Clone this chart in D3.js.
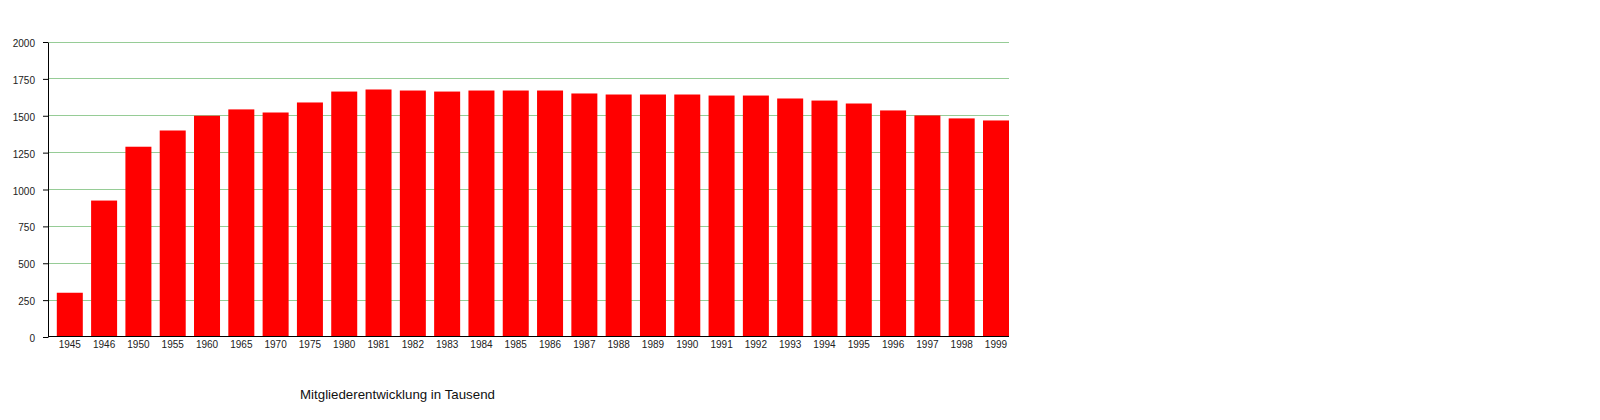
<!DOCTYPE html>
<html>
<head>
<meta charset="utf-8">
<script src="https://cdn.jsdelivr.net/npm/d3@7"></script>
<style>
  html, body { margin: 0; padding: 0; background: #fff; }
  svg { display: block; font-family: "Liberation Sans", Arial, Helvetica, sans-serif; }
</style>
</head>
<body>
<svg id="chart" width="1600" height="420"></svg>
<script>
const categories = ["1945","1946","1950","1955","1960","1965","1970","1975","1980","1981","1982","1983","1984","1985","1986","1987","1988","1989","1990","1991","1992","1993","1994","1995","1996","1997","1998","1999"];
const members = [300, 925, 1290, 1400, 1500, 1543, 1522, 1590, 1664, 1678, 1671, 1664, 1671, 1671, 1671, 1651, 1644, 1644, 1644, 1637, 1637, 1617, 1603, 1583, 1536, 1502, 1482, 1468];
const yTicks = [0, 250, 500, 750, 1000, 1250, 1500, 1750, 2000];
const title = "Mitgliederentwicklung in Tausend";

const svg = d3.select("#chart");
const plotLeft = 48.5, plotRight = 1009, plotTop = 42, plotBottom = 337;

const pi = 0.242;
const x = d3.scaleBand().domain(categories).range([plotLeft, plotRight])
  .paddingInner(pi).paddingOuter(pi / 2).align(1);
const y = d3.scaleLinear().domain([0, 2000]).range([plotBottom, plotTop]);

// gridlines
svg.append("g").selectAll("line").data(yTicks.filter(d => d > 0)).join("line")
  .attr("x1", plotLeft).attr("x2", plotRight)
  .attr("y1", d => Math.floor(y(d)) + 0.5).attr("y2", d => Math.floor(y(d)) + 0.5)
  .attr("stroke", "#96cc96").attr("stroke-width", 1);

// bars
svg.append("g").selectAll("rect").data(members).join("rect")
  .attr("x", (d, i) => x(categories[i]))
  .attr("width", x.bandwidth())
  .attr("y", d => y(d))
  .attr("height", d => y(0) - y(d))
  .attr("fill", "#ff0000");

// y axis
const yAxis = svg.append("g").attr("transform", "translate(48,0)")
  .call(d3.axisLeft(y).tickValues(yTicks).tickSize(5).tickSizeOuter(0).tickPadding(8).tickFormat(d3.format("d")));
yAxis.selectAll("text").attr("font-size", 10).attr("fill", "#222").attr("dy", "0.45em").style("font-family", "inherit");
yAxis.selectAll("line,path").attr("stroke", "#000");

// x axis
const xAxis = svg.append("g").attr("transform", "translate(0,336)")
  .call(d3.axisBottom(x).tickSize(0).tickSizeOuter(0).tickPadding(5));
xAxis.select(".domain").attr("d", `M${plotLeft - 0.5},0.5H${plotRight}`);
xAxis.selectAll("text").attr("font-size", 10).attr("fill", "#222").style("font-family", "inherit");
xAxis.selectAll("path").attr("stroke", "#000");

// title
svg.append("text").attr("x", 397.5).attr("y", 399)
  .attr("text-anchor", "middle").attr("font-size", 13.3).attr("fill", "#111")
  .text(title);
</script>
</body>
</html>
